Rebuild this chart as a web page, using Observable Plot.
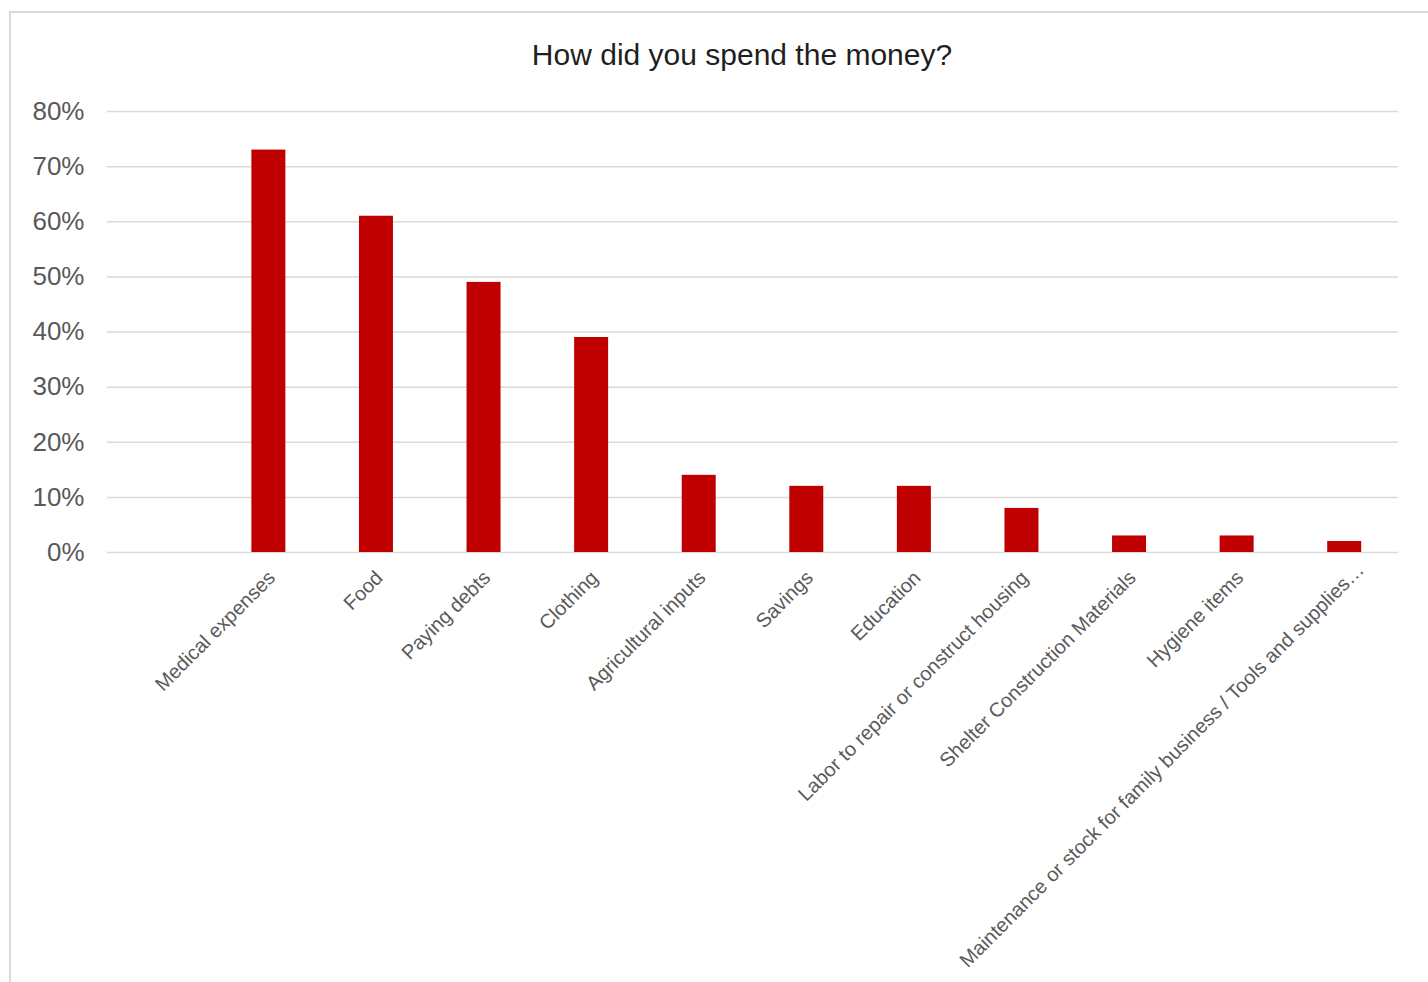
<!DOCTYPE html>
<html>
<head>
<meta charset="utf-8">
<script src="https://cdn.jsdelivr.net/npm/d3@7"></script>
<script src="https://cdn.jsdelivr.net/npm/@observablehq/plot@0.6"></script>
<style>
  body { margin: 0; background: #fff; font-family: "Liberation Sans", Arial, sans-serif; }
  #wrap { position: relative; width: 1428px; height: 982px; overflow: hidden; background: #fff; }
  #frame { position: absolute; left: 9px; top: 11px; width: 1500px; height: 1100px; border: 2px solid #d9d9d9; box-sizing: border-box; }
  #title { position: absolute; left: 0; width: 1484px; top: 40px; text-align: center; font-size: 30px; line-height: 29px; color: #1f1f1f; z-index: 2; }
  #chart { position: absolute; left: 0; top: 0; z-index: 1; }
</style>
</head>
<body>
<div id="wrap">
  <div id="frame"></div>
  <div id="title">How did you spend the money?</div>
  <div id="chart"></div>
</div>
<script>
// Data
const categories = [
  "Medical expenses",
  "Food",
  "Paying debts",
  "Clothing",
  "Agricultural inputs",
  "Savings",
  "Education",
  "Labor to repair or construct housing",
  "Shelter Construction Materials",
  "Hygiene items",
  "Maintenance or stock for family business / Tools and supplies…"
];
const values = [0.73, 0.61, 0.49, 0.39, 0.14, 0.12, 0.12, 0.08, 0.03, 0.03, 0.02];
const yTicks = [0, 0.1, 0.2, 0.3, 0.4, 0.5, 0.6, 0.7, 0.8];
const blankCategory = ""; // empty leading slot on the category axis

const data = categories.map((c, i) => ({ category: c, value: values[i] }));
const mainLabels = categories.slice(0, -1);
const truncatedLabel = categories.slice(-1);

const axisTextStyle = { tickSize: 0, tickRotate: -45, tickPadding: 22, fontSize: 20, fill: "#595959", label: null };

const chart = Plot.plot({
  width: 1428,
  height: 982,
  marginLeft: 107,
  marginRight: 30,
  marginTop: 111,
  marginBottom: 430,
  style: { fontFamily: "'Liberation Sans', Arial, sans-serif", background: "transparent", overflow: "visible" },
  x: { domain: [blankCategory, ...categories], paddingInner: 0.684, paddingOuter: 0.342, align: 0.5, round: false },
  y: { domain: [0, 0.8] },
  marks: [
    Plot.gridY(yTicks, { stroke: "#d9d9d9", strokeOpacity: 1, strokeWidth: 1.5 }),
    Plot.barY(data, { x: "category", y: "value", fill: "#c00000" }),
    Plot.axisY(yTicks, {
      tickSize: 0, tickPadding: 23, tickFormat: d3.format(".0%"),
      fontSize: 26, fill: "#595959", label: null
    }),
    Plot.axisX(mainLabels, { ...axisTextStyle, dx: 3 }),
    Plot.axisX(truncatedLabel, { ...axisTextStyle, dx: 16, dy: -8 })
  ]
});
document.getElementById("chart").appendChild(chart);
</script>
</body>
</html>
